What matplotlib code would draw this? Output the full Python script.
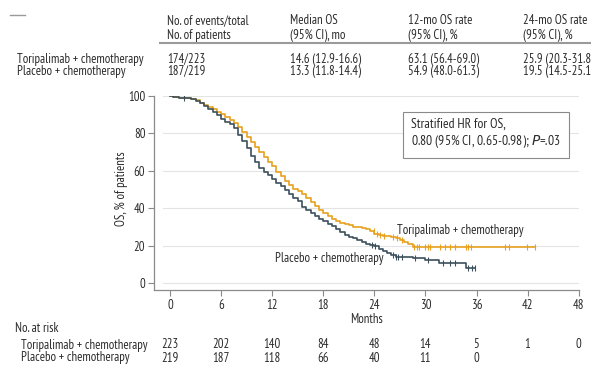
import matplotlib
matplotlib.use("Agg")
import matplotlib.pyplot as plt
import numpy as np

plt.rcParams['font.family'] = ['PT Sans Narrow', 'IBM Plex Sans Condensed',
                               'Liberation Sans Narrow', 'DejaVu Sans']

# Kaplan-Meier step points (months, % surviving)
tori_t = [0, 0.3, 1.0, 2.5, 3.0, 3.5, 4.0, 4.5, 5.0, 5.5, 6.0, 6.5, 7.0, 7.5, 8.0,
          8.5, 9.0, 9.5, 10.0, 10.5, 11.0, 11.5, 12.0, 12.5, 13.0, 13.5, 14.0, 14.5,
          15.0, 15.5, 16.0, 16.5, 17.0, 17.5, 18.0, 18.5, 19.0, 19.5, 20.0, 20.5,
          21.0, 21.5, 22.0, 22.5, 23.0, 23.5, 24.0, 24.5, 25.0, 26.0, 26.5, 27.0,
          27.5, 28.0, 28.5, 42.9]
tori_s = [100, 99.5, 99.1, 98.6, 97.6, 96.5, 95.2, 94.0, 92.8, 91.6, 90.2, 88.8, 87.4,
          85.6, 83.2, 80.6, 78.0, 75.3, 72.5, 70.0, 67.4, 64.8, 62.4, 59.6, 57.0, 54.4,
          52.2, 50.4, 49.0, 47.4, 45.2, 43.2, 41.0, 38.8, 37.2, 35.6, 34.2, 33.0, 32.2,
          31.4, 30.8, 30.0, 29.8, 29.4, 29.0, 27.6, 26.4, 25.8, 25.2, 24.6, 24.0, 23.0,
          22.0, 21.0, 19.4, 19.4]
tori_cens = [23.9, 24.3, 24.7, 25.1, 26.2, 26.7, 27.2, 28.7, 29.0, 29.3, 30.0, 30.3,
             30.5, 31.7, 32.3, 32.9, 33.5, 34.8, 35.0, 35.3, 39.4, 39.8, 41.9, 42.9]

plac_t = [0, 0.3, 1.0, 2.5, 3.0, 3.5, 4.0, 4.5, 5.0, 5.5, 6.0, 6.5, 7.0, 7.5, 8.0,
          8.5, 9.0, 9.5, 10.0, 10.5, 11.0, 11.5, 12.0, 12.5, 13.0, 13.5, 14.0, 14.5,
          15.0, 15.5, 16.0, 16.5, 17.0, 17.5, 18.0, 18.5, 19.0, 19.5, 20.0, 20.5,
          21.0, 21.5, 22.0, 22.5, 23.0, 23.5, 24.0, 24.5, 25.0, 25.5, 26.0, 26.5,
          27.5, 28.5, 30.0, 31.6, 34.8, 35.8]
plac_s = [100, 99.5, 99.0, 98.6, 97.4, 96.0, 94.5, 93.0, 91.5, 89.8, 87.8, 86.0, 84.8,
          82.8, 79.0, 75.8, 72.0, 68.0, 64.5, 61.5, 59.5, 57.6, 55.4, 53.6, 52.0, 49.6,
          47.5, 45.6, 43.6, 40.8, 38.8, 37.2, 35.8, 34.4, 33.0, 31.6, 30.4, 29.0, 27.4,
          25.8, 24.6, 23.8, 23.0, 22.0, 21.0, 20.5, 19.5, 18.0, 17.0, 15.9, 14.8, 14.0,
          13.8, 13.3, 12.4, 10.6, 7.9, 7.9]
plac_cens = [1.6, 23.7, 24.1, 26.2, 26.5, 26.8, 27.2, 28.8, 30.3, 32.1, 32.9, 33.5,
             35.0, 35.5, 35.8]

risk_months = [0, 6, 12, 18, 24, 30, 36, 42, 48]
risk_tori = ['223', '202', '140', '84', '48', '14', '5', '1', '0']
risk_plac = ['219', '187', '118', '66', '40', '11', '0', '', '']

arms = ['Toripalimab + chemotherapy', 'Placebo + chemotherapy']
header = [('No. of events/total', 'No. of patients'),
          ('Median OS', '(95% CI), mo'),
          ('12-mo OS rate', '(95% CI), %'),
          ('24-mo OS rate', '(95% CI), %')]
rows = [['174/223', '14.6 (12.9-16.6)', '63.1 (56.4-69.0)', '25.9 (20.3-31.8)'],
        ['187/219', '13.3 (11.8-14.4)', '54.9 (48.0-61.3)', '19.5 (14.5-25.1)']]

ORANGE = '#e8a11e'
SLATE = '#3c505c'
TXT = '#2b2b2b'
FS = 9.2
W, H = 591, 367


def fx(px):
    return px / W


def fy(py):
    return 1 - py / H


def at(t, s, x):
    t = np.asarray(t)
    i = np.searchsorted(t, x, side='right') - 1
    return np.asarray(s)[i]


fig = plt.figure(figsize=(W / 100, H / 100), dpi=100)
ax = fig.add_axes([fx(154.3), fy(290), fx(578.7) - fx(154.3), fy(96) - fy(290)])

ax.step(tori_t, tori_s, where='post', color=ORANGE, lw=1.2, zorder=3)
ax.step(plac_t, plac_s, where='post', color=SLATE, lw=1.2, zorder=3)
ax.plot(tori_cens, at(tori_t, tori_s, tori_cens), ls='none', marker='|',
        ms=4.5, mew=0.8, color=ORANGE, zorder=3)
ax.plot(plac_cens, at(plac_t, plac_s, plac_cens), ls='none', marker='|',
        ms=4.5, mew=0.8, color=SLATE, zorder=3)

ax.set_xlim(-1.85, 48)
ax.set_ylim(-3.8, 100)
ax.set_xticks(risk_months)
ax.set_yticks([0, 20, 40, 60, 80, 100])
for y in [0, 20, 40, 60, 80, 100]:
    ax.axhline(y, xmin=0.02, color='#e4e4e4', lw=0.8, zorder=1)
for side in ['top', 'right']:
    ax.spines[side].set_visible(False)
for side in ['left', 'bottom']:
    ax.spines[side].set_color('#8a8a8a')
    ax.spines[side].set_linewidth(0.9)
ax.tick_params(colors='#8a8a8a', labelcolor=TXT, labelsize=FS, length=4, width=0.8,
               pad=2.5)
ax.set_xlabel('Months', fontsize=FS, color=TXT, labelpad=1)
ax.set_ylabel('OS, % of patients', fontsize=FS, color=TXT)
ax.yaxis.set_label_coords(-0.062, 0.52)

ax.text(28.3, 79.7, 'Stratified HR for OS,\n0.80 (95% CI, 0.65-0.98); $\\it{P}$=.03',
        fontsize=9.8, color=TXT, va='center', ha='left', linespacing=1.15,
        bbox=dict(boxstyle='square,pad=0.62', fc='white', ec='#8a8a8a', lw=0.8))
ax.text(26.6, 28.3, arms[0], fontsize=FS, color=TXT, va='center', ha='left')
ax.text(12.3, 12.8, arms[1], fontsize=FS, color=TXT, va='center', ha='left')

# summary table above the plot
col_x = [167, 290, 408, 523]
for x, (l1, l2) in zip(col_x, header):
    fig.text(fx(x), fy(21), l1, fontsize=FS, color=TXT, va='center')
    fig.text(fx(x), fy(35), l2, fontsize=FS, color=TXT, va='center')
fig.add_artist(plt.Line2D([fx(160), fx(591)], [fy(43), fy(43)], color='#9a9a9a', lw=1.5))
fig.add_artist(plt.Line2D([fx(10), fx(25)], [fy(15), fy(15)], color='#9a9a9a', lw=1.0))
for ry, name, vals in zip([59, 71], arms, rows):
    fig.text(fx(17), fy(ry), name, fontsize=FS, color=TXT, va='center')
    for x, v in zip(col_x, vals):
        fig.text(fx(x), fy(ry), v, fontsize=FS, color=TXT, va='center')

# numbers at risk
fig.text(fx(15), fy(328), 'No. at risk', fontsize=FS, color=TXT, va='center')
for ry, name, vals in zip([345, 358], arms, [risk_tori, risk_plac]):
    fig.text(fx(21), fy(ry), name, fontsize=FS, color=TXT, va='center')
    for m, v in zip(risk_months, vals):
        xp = ax.transData.transform((m, 0))[0]
        fig.text(xp / fig.dpi / fig.get_figwidth(), fy(ry), v, fontsize=FS,
                 color=TXT, va='center', ha='center')

fig.savefig('out.png', dpi=100)
